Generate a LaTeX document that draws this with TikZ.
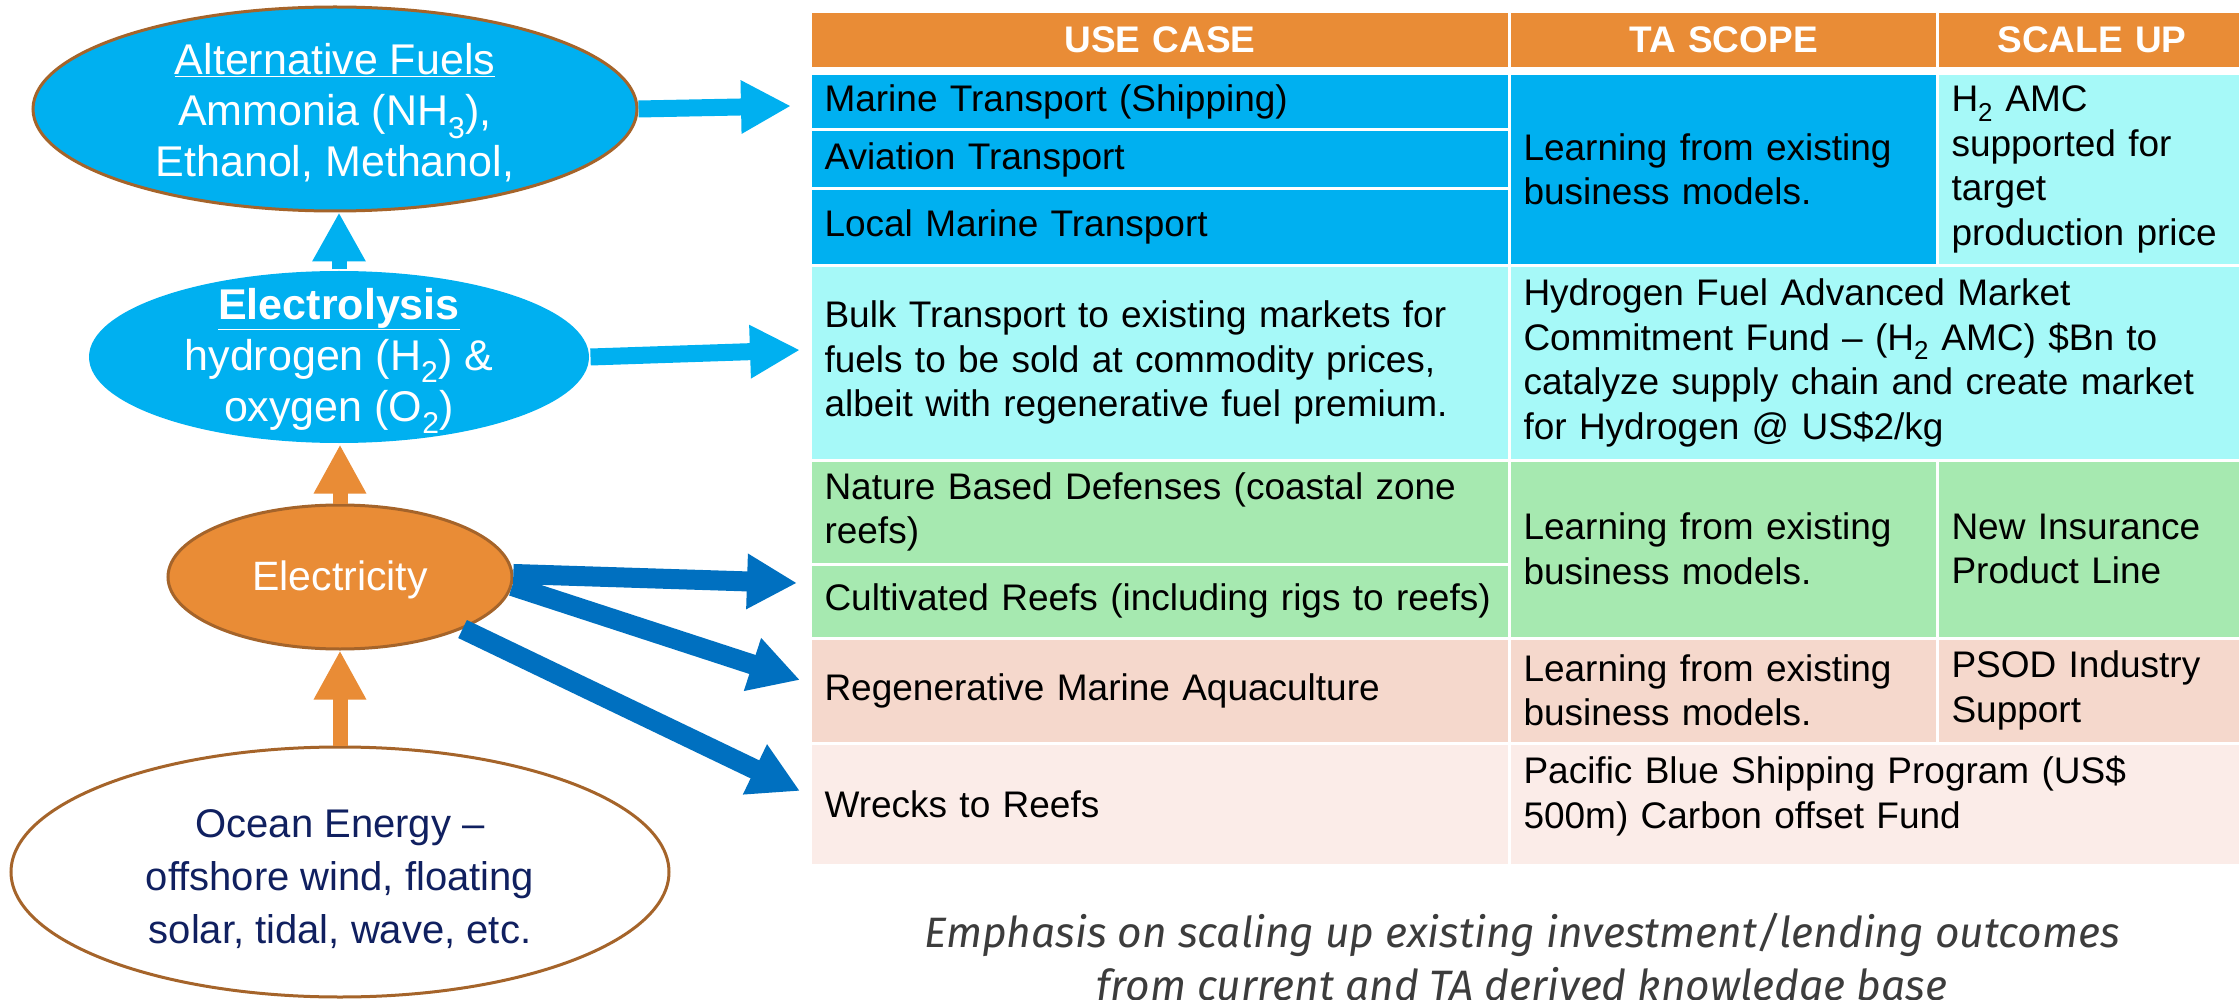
\documentclass[tikz,border=0pt]{standalone}
\usepackage{fontspec}
\setmainfont{Liberation Sans}
\newfontfamily\capfont{Fira Sans}
\usetikzlibrary{shapes.geometric,arrows.meta,calc}
\definecolor{hdrorange}{RGB}{233,140,54}
\definecolor{cblue}{RGB}{0,176,240}
\definecolor{ccyan}{RGB}{166,249,248}
\definecolor{cgreen}{RGB}{166,233,176}
\definecolor{cpink}{RGB}{245,216,204}
\definecolor{clpink}{RGB}{251,236,232}
\definecolor{dblue}{RGB}{0,112,192}
\definecolor{brownb}{RGB}{165,100,42}
\definecolor{navy}{RGB}{16,32,96}
\definecolor{capgray}{RGB}{60,60,60}
\newcommand{\tcell}[8][cell]{%
  \pgfmathsetmacro{\cw}{#5-#3}\pgfmathsetmacro{\ch}{#6-#4}\pgfmathsetmacro{\tw}{#5-#3-28}%
  \node[#1, fill=#2, minimum width=\cw pt, minimum height=\ch pt, text width=\tw pt] (#7) at (#3,#4) {#8};}
\begin{document}
\begin{tikzpicture}[x=1pt,y=-1pt,
  cell/.style={rectangle, draw=white, line width=3pt, anchor=north west, inner xsep=14pt, inner ysep=0pt,
    align=left, text=black, font=\fontsize{37}{44.5}\selectfont},
  hdr/.style={cell, align=center, text=white, font=\bfseries\fontsize{37}{44.5}\selectfont},
  ell/.style={ellipse, inner sep=0pt, line width=3pt},
  elltext/.style={align=center, inner sep=0pt},
  lbarrow/.style={draw=cblue, line width=17pt, -{Triangle[length=50pt,width=50pt]}},
  lbup/.style={draw=cblue, line width=15pt, -{Triangle[length=49pt,width=50pt]}},
  orarrow/.style={draw=hdrorange, line width=15pt, -{Triangle[length=49pt,width=49pt]}},
  dbarrow/.style={draw=dblue, line width=20pt, -{Triangle[length=50pt,width=52pt]}},
  captext/.style={align=center, inner sep=0pt, text=capgray, font=\capfont\itshape\fontsize{42.5}{53}\selectfont}
]
\useasboundingbox (0,0) rectangle (2239,1000);
\fill[white] (0,0) rectangle (2239,1000);

% ---------- table header ----------
\tcell[hdr]{hdrorange}{809}{10}{1508}{67}{h1}{USE CASE}
\tcell[hdr]{hdrorange}{1508}{10}{1936}{67}{h2}{TA SCOPE}
\tcell[hdr]{hdrorange}{1936}{10}{2245}{67}{h3}{SCALE UP}

% ---------- row group A ----------
\tcell{cblue}{809}{72}{1508}{128.5}{marine}{Marine Transport (Shipping)}
\tcell{cblue}{809}{128.5}{1508}{187.5}{aviation}{Aviation Transport}
\tcell{cblue}{809}{187.5}{1508}{264}{localm}{Local Marine Transport}
\tcell{cblue}{1508}{72}{1936}{264}{taA}{Learning from existing\\business models.}
\tcell{ccyan}{1936}{72}{2245}{264}{suA}{H\textsubscript{2} AMC\\supported for\\target\\production price}

% ---------- row B ----------
\tcell{ccyan}{809}{264}{1508}{458.5}{bulk}{Bulk Transport to existing markets for\\fuels to be sold at commodity prices,\\albeit with regenerative fuel premium.}
\tcell{ccyan}{1508}{264}{2245}{458.5}{taB}{Hydrogen Fuel Advanced Market\\Commitment Fund -- (H\textsubscript{2} AMC) \$Bn to\\catalyze supply chain and create market\\for Hydrogen @ US\$2/kg}

% ---------- row group C ----------
\tcell{cgreen}{809}{458.5}{1508}{562.5}{nature}{Nature Based Defenses (coastal zone\\reefs)}
\tcell{cgreen}{809}{562.5}{1508}{636.5}{cult}{Cultivated Reefs (including rigs to reefs)}
\tcell{cgreen}{1508}{458.5}{1936}{636.5}{taC}{Learning from existing\\business models.}
\tcell{cgreen}{1936}{458.5}{2245}{636.5}{suC}{New Insurance\\Product Line}

% ---------- row D ----------
\tcell{cpink}{809}{636.5}{1508}{741.5}{regen}{Regenerative Marine Aquaculture}
\tcell{cpink}{1508}{636.5}{1936}{741.5}{taD}{Learning from existing\\business models.}
\tcell{cpink}{1936}{636.5}{2245}{741.5}{suD}{PSOD Industry\\Support}

% ---------- row E ----------
\tcell{clpink}{809}{741.5}{1508}{864}{wrecks}{Wrecks to Reefs}
\tcell{clpink}{1508}{741.5}{2245}{864}{taE}{Pacific Blue Shipping Program (US\$\\500m) Carbon offset Fund\rule[-24pt]{0pt}{1pt}}

% ---------- left ellipses ----------
\node[ell, fill=cblue, draw=brownb, minimum width=604pt, minimum height=204pt] (af) at (335,109) {};
\node[elltext, text=white, font=\fontsize{43}{51}\selectfont] (aft) at (335,113)
  {\underline{Alternative Fuels}\\Ammonia (NH\textsubscript{3}),\\Ethanol, Methanol,};

\node[ell, fill=cblue, minimum width=500pt, minimum height=172pt] (el) at (339,357) {};
\node[elltext, text=white, font=\fontsize{43}{51}\selectfont] (elt) at (339,361)
  {\textbf{\underline{Electrolysis}}\\hydrogen (H\textsubscript{2}) \&\\oxygen (O\textsubscript{2})};

\node[ell, fill=hdrorange, draw=brownb, minimum width=344pt, minimum height=144pt] (elec) at (340,577) {};
\node[elltext, text=white, font=\fontsize{41}{49}\selectfont] (elect) at (340,580) {Electricity};

\node[ell, fill=white, draw=brownb, minimum width=658pt, minimum height=250pt] (ocean) at (340,872) {};
\node[elltext, text=navy, font=\fontsize{40}{53}\selectfont] (oceant) at (340,879)
  {Ocean Energy --\\offshore wind, floating\\solar, tidal, wave, etc.};

% ---------- arrows ----------
\coordinate (t1) at (791,106);
\coordinate (t2) at (800,350);
\coordinate (t3) at (797,583);
\coordinate (t4) at (800,680);
\coordinate (t5) at (800,791);
\draw[lbarrow] (af.east) -- (t1);
\draw[lbarrow] (el.east) -- (t2);
\draw[lbup] (el.north) -- (el.north |- af.south);
\draw[orarrow] (elec.north) -- (elec.north |- el.south);
\draw[orarrow] (ocean.north) -- (ocean.north |- elec.south);
\draw[dbarrow] (elec.1) -- (t3);
\draw[dbarrow] (elec.-3) -- (t4);
\draw[dbarrow] (elec.-23) -- (t5);

% ---------- caption ----------
\node[captext] (cap) at (1522,961)
  {Emphasis on scaling up existing investment/lending outcomes\\from current and TA derived knowledge base};
\end{tikzpicture}
\end{document}
